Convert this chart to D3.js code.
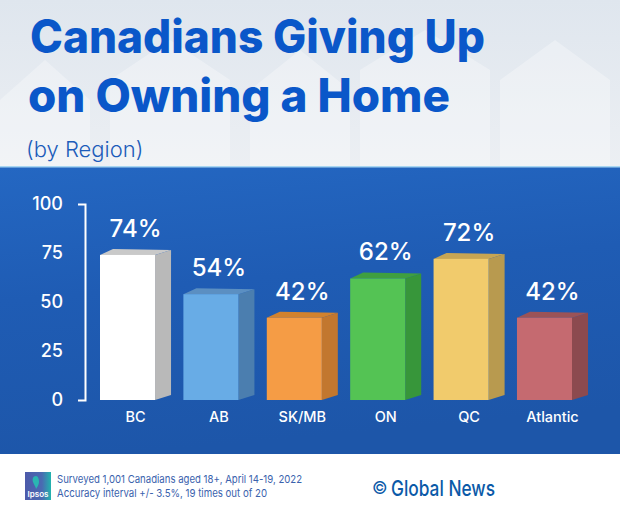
<!DOCTYPE html>
<html>
<head>
<meta charset="utf-8">
<script src="https://cdn.jsdelivr.net/npm/d3@7"></script>
<style>
  html, body { margin: 0; padding: 0; background: #fff; }
  svg { display: block; font-family: Inter, "Noto Sans", sans-serif; }
</style>
</head>
<body>
<svg id="chart"></svg>
<script>
// chart data
const regions = ['BC', 'AB', 'SK/MB', 'ON', 'QC', 'Atlantic'];
const shares = [74, 54, 42, 62, 72, 42];
const yTicks = [0, 25, 50, 75, 100];

// colours per region: front, side, top
const fronts = ['#ffffff', '#68ace6', '#f59c45', '#54c354', '#f1cb6c', '#c56a70'];
const sides = ['#b9b9b9', '#4b7eaf', '#c2772f', '#37963a', '#b89a4f', '#8c4a4f'];
const tops = ['#c9c9c9', '#5b8fc2', '#d2822e', '#3f9f40', '#c7a553', '#9b5357'];

const width = 620;
const height = 515;
const depthX = 16;
const depthY = -5;

const svg = d3.select('#chart')
    .attr('width', width)
    .attr('height', height);

const defs = svg.append('defs');

const sky = defs.append('linearGradient').attr('id', 'sky').attr('x1', 0).attr('y1', 0).attr('x2', 0).attr('y2', 1);
sky.append('stop').attr('offset', '0%').attr('stop-color', '#dfe6ee');
sky.append('stop').attr('offset', '100%').attr('stop-color', '#eceff3');

const panel = defs.append('linearGradient').attr('id', 'panel').attr('x1', 0).attr('y1', 0).attr('x2', 0.2).attr('y2', 1);
panel.append('stop').attr('offset', '0%').attr('stop-color', '#2467c2');
panel.append('stop').attr('offset', '45%').attr('stop-color', '#1f5cb4');
panel.append('stop').attr('offset', '100%').attr('stop-color', '#1d56a9');

const logo = defs.append('linearGradient').attr('id', 'logo').attr('x1', 0).attr('y1', 0).attr('x2', 1).attr('y2', 0);
logo.append('stop').attr('offset', '0%').attr('stop-color', '#4d5aaa');
logo.append('stop').attr('offset', '65%').attr('stop-color', '#4a6ab2');
logo.append('stop').attr('offset', '100%').attr('stop-color', '#22b3ae');

// header background with faint houses
svg.append('rect').attr('width', width).attr('height', 168).attr('fill', 'url(#sky)');
const houses = [[0, 60, 90], [110, 40, 120], [250, 50, 100], [360, 30, 130], [500, 40, 110]];
svg.selectAll('.house')
    .data(houses)
    .enter().append('path')
    .attr('class', 'house')
    .attr('d', d => `M${d[0]},168V${d[1] + 40}L${d[0] + d[2] / 2},${d[1]}L${d[0] + d[2]},${d[1] + 40}V168Z`)
    .attr('fill', '#ffffff')
    .attr('opacity', 0.3);

// title
svg.append('text')
    .attr('x', 30).attr('y', 53)
    .attr('textLength', 455).attr('lengthAdjust', 'spacingAndGlyphs')
    .style('font-size', '46px').style('font-weight', 800).style('fill', '#0a57c9')
    .text('Canadians Giving Up');
svg.append('text')
    .attr('x', 28).attr('y', 112)
    .attr('textLength', 422).attr('lengthAdjust', 'spacingAndGlyphs')
    .style('font-size', '46px').style('font-weight', 800).style('fill', '#0a57c9')
    .text('on Owning a Home');
svg.append('text')
    .attr('x', 26).attr('y', 157)
    .style('font-size', '22px').style('font-weight', 300).style('fill', '#1c5cba')
    .text('(by Region)');

// blue panel
svg.append('rect').attr('y', 167).attr('width', width).attr('height', 287).attr('fill', 'url(#panel)');
svg.append('rect').attr('y', 166).attr('width', width).attr('height', 1.5).attr('fill', '#a8d6f2');

// scales
const xScale = d3.scaleBand().domain(regions).range([100, 572]).paddingInner(0.34);
const yScale = d3.scaleLinear().domain([0, 100]).range([400, 204]);

// axis drawn as a bracket
const yAxis = svg.append('g')
    .attr('transform', 'translate(85,0)')
    .call(d3.axisLeft(yScale).tickValues(yTicks).tickSizeInner(0).tickSizeOuter(7).tickPadding(22));
yAxis.select('.domain').attr('stroke', '#fff').attr('stroke-width', 2).attr('fill', 'none');
yAxis.selectAll('text')
    .style('fill', '#fff').style('font-size', '18px').style('font-family', 'Inter, sans-serif').style('font-weight', 500);

const data = regions.map((r, i) => ({ region: r, value: shares[i], i: i }));
const bw = xScale.bandwidth();

const bars = svg.selectAll('.bar')
    .data(data)
    .enter().append('g')
    .attr('class', 'bar');

// side face
bars.append('path')
    .attr('d', d => {
        const x1 = xScale(d.region) + bw;
        const top = yScale(d.value);
        const base = yScale(0);
        return `M${x1},${top}L${x1 + depthX},${top + depthY}L${x1 + depthX},${base + depthY}L${x1},${base}Z`;
    })
    .attr('fill', d => sides[d.i]);

// top face
bars.append('path')
    .attr('d', d => {
        const x0 = xScale(d.region);
        const top = yScale(d.value);
        return `M${x0},${top}L${x0 + depthX - 3},${top + depthY - 1}L${x0 + bw + depthX},${top + depthY}L${x0 + bw},${top}Z`;
    })
    .attr('fill', d => tops[d.i]);

// front face
bars.append('rect')
    .attr('x', d => xScale(d.region))
    .attr('y', d => yScale(d.value))
    .attr('width', bw)
    .attr('height', d => yScale(0) - yScale(d.value))
    .attr('fill', d => fronts[d.i]);

// value labels
bars.append('text')
    .attr('x', d => xScale(d.region) + (bw + depthX) / 2)
    .attr('y', d => yScale(d.value) - 18)
    .attr('text-anchor', 'middle')
    .style('fill', '#fff').style('font-size', '24px').style('font-weight', 500)
    .text(d => d.value + '%');

// category labels
bars.append('text')
    .attr('x', d => xScale(d.region) + (bw + depthX) / 2)
    .attr('y', 422)
    .attr('text-anchor', 'middle')
    .style('fill', '#fff').style('font-size', '14.5px').style('font-weight', 500)
    .text(d => d.region);

// footer
svg.append('rect').attr('x', 25).attr('y', 472).attr('width', 26).attr('height', 28).attr('fill', 'url(#logo)');
svg.append('path').attr('d', 'M36,476c-3,0-4,3-3,6c1,3,3,5,3,7c1-2,3-4,3-7c0-3-1-6-3-6Z').attr('fill', '#2ab6b2');
svg.append('text').attr('x', 38).attr('y', 497).attr('text-anchor', 'middle')
    .style('font-size', '8px').style('font-weight', 600).style('fill', '#fff').text('Ipsos');

svg.append('text').attr('x', 57).attr('y', 483)
    .attr('textLength', 245).attr('lengthAdjust', 'spacingAndGlyphs')
    .style('font-size', '11px').style('font-weight', 400).style('fill', '#3a62ad')
    .text('Surveyed 1,001 Canadians aged 18+, April 14-19, 2022');
svg.append('text').attr('x', 57).attr('y', 497)
    .attr('textLength', 210).attr('lengthAdjust', 'spacingAndGlyphs')
    .style('font-size', '11px').style('font-weight', 400).style('fill', '#3a62ad')
    .text('Accuracy interval +/- 3.5%, 19 times out of 20');

svg.append('text').attr('x', 372).attr('y', 494)
    .style('font-size', '17px').style('font-weight', 400).style('fill', '#0b5aa8')
    .text('©');
svg.append('text').attr('x', 391).attr('y', 496)
    .attr('textLength', 104).attr('lengthAdjust', 'spacingAndGlyphs')
    .style('font-size', '22px').style('font-weight', 500).style('fill', '#0b5aa8')
    .text('Global News');
</script>
</body>
</html>
